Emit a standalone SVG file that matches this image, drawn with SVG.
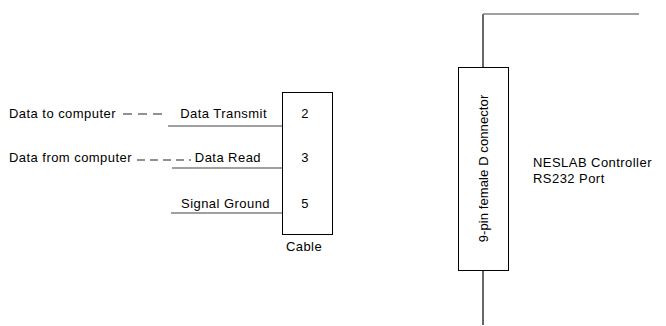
<svg xmlns="http://www.w3.org/2000/svg" width="666" height="326" viewBox="0 0 666 326">
<style>
text{font-family:"Liberation Sans",Arial,sans-serif;font-size:13px;fill:#000;letter-spacing:0.45px}
.box{fill:#fff;stroke:#000;stroke-width:1}
.wire{stroke:#808080;stroke-width:1.5;fill:none}
.dash{stroke:#6e6e6e;stroke-width:1.4;fill:none}
.blk{stroke:#000;stroke-width:1.2;fill:none}
</style>
<rect width="666" height="326" fill="#fff"/>
<g id="connectors">
<line class="wire" x1="168" y1="126" x2="282" y2="126"/>
<line class="wire" x1="172" y1="168" x2="282" y2="168"/>
<line class="wire" x1="171" y1="213" x2="282" y2="213"/>
<line class="dash" x1="123" y1="114" x2="163" y2="114" stroke-dasharray="9,6"/>
<line class="dash" x1="137" y1="160" x2="191" y2="160" stroke-dasharray="8,5"/>
<polyline class="blk" points="483,67 483,14"/>
<line class="wire" x1="483" y1="14" x2="639" y2="14"/>
<line class="blk" x1="483" y1="270" x2="483" y2="325"/>
</g>
<g id="cable">
<rect class="box" x="282.5" y="92.5" width="50" height="142"/>
<text x="305" y="118" text-anchor="middle">2</text>
<text x="305" y="162" text-anchor="middle">3</text>
<text x="305" y="208" text-anchor="middle">5</text>
<text x="304" y="251" text-anchor="middle">Cable</text>
</g>
<g id="labels-left">
<text x="267" y="118" text-anchor="end">Data Transmit</text>
<text x="261" y="162" text-anchor="end">Data Read</text>
<text x="270" y="208" text-anchor="end">Signal Ground</text>
<text x="9" y="118">Data to computer</text>
<text x="9" y="162">Data from computer</text>
</g>
<g id="dconnector">
<rect class="box" x="458.5" y="67.5" width="50" height="203"/>
<text transform="translate(488,168.5) rotate(-90)" text-anchor="middle" style="letter-spacing:0.1px">9-pin female D connector</text>
</g>
<g id="controller">
<text x="533" y="167">NESLAB Controller</text>
<text x="533" y="183">RS232 Port</text>
</g>
</svg>
